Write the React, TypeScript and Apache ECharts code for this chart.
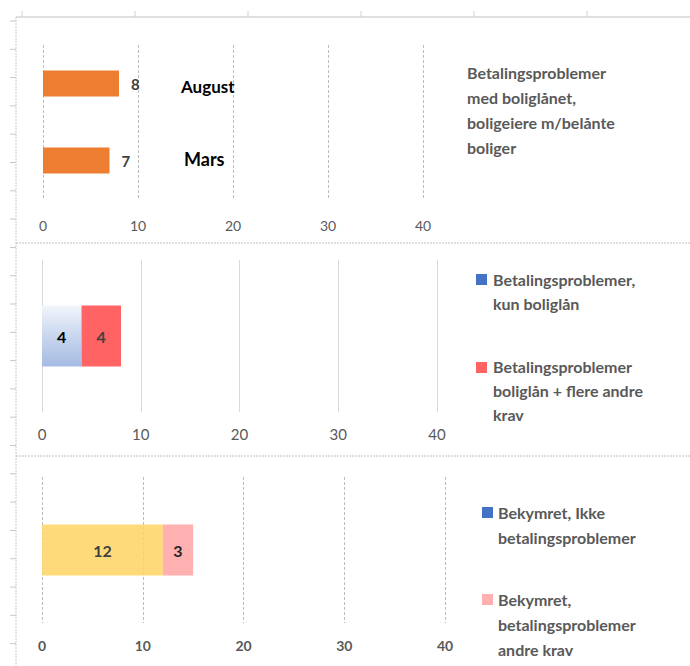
import React, { useEffect, useRef } from 'react';
import * as echarts from 'echarts';

const FONT = 'Lato, "Noto Sans", sans-serif';

// Panel 1
const monthCategories = ['Mars', 'August'];
const monthValues = [7, 8];
const panel1Title = 'Betalingsproblemer\nmed boliglånet,\nboligeiere m/belånte\nboliger';

// Panel 2
const panel2Categories = [''];
const onlyMortgageValues = [4];
const mortgagePlusValues = [4];
const panel2Names = ['Betalingsproblemer,\nkun boliglån', 'Betalingsproblemer\nboliglån + flere andre\nkrav'];

// Panel 3
const panel3Categories = [''];
const worriedNoProblemValues = [12];
const worriedOtherValues = [3];
const panel3Names = ['Bekymret, Ikke\nbetalingsproblemer', 'Bekymret,\nbetalingsproblemer\nandre krav'];

// Axis
const axisMin = 0;
const axisMax = 40;
const axisInterval = 10;

export default function App() {
  const ref = useRef<HTMLDivElement>(null);
  useEffect(() => {
    if (!ref.current) return;
    const chart = echarts.init(ref.current, undefined, { renderer: 'svg' });

    const graphics: any[] = [];
    // frame lines
    graphics.push({ type: 'line', shape: { x1: 16, y1: 17, x2: 690, y2: 17 }, style: { stroke: '#d6d6d6', lineWidth: 1.5 } });
    graphics.push({ type: 'line', shape: { x1: 16, y1: 17, x2: 16, y2: 666 }, style: { stroke: '#c8c8c8', lineWidth: 1, lineDash: [2, 1] } });
    graphics.push({ type: 'line', shape: { x1: 16, y1: 243, x2: 690, y2: 243 }, style: { stroke: '#c0c0c0', lineWidth: 1, lineDash: [2, 1] } });
    graphics.push({ type: 'line', shape: { x1: 16, y1: 456, x2: 690, y2: 456 }, style: { stroke: '#c0c0c0', lineWidth: 1, lineDash: [2, 1] } });
    for (let k = 0; k < 24; k++) {
      const y = 21 + 28.3 * k;
      if (y > 666) break;
      graphics.push({ type: 'line', shape: { x1: 10, y1: y, x2: 16, y2: y }, style: { stroke: '#c8c8c8', lineWidth: 1 } });
    }
    for (let k = 0; k < 7; k++) {
      const x = 22 + 113 * k;
      if (x > 690) break;
      graphics.push({ type: 'line', shape: { x1: x, y1: 11, x2: x, y2: 17 }, style: { stroke: '#d0d0d0', lineWidth: 1 } });
    }
    // Panel 1 title
    graphics.push({
      type: 'text', x: 467, y: 60,
      style: { text: panel1Title, font: `bold 16px ${FONT}`, fill: '#595959', lineHeight: 25, textVerticalAlign: 'top' },
    });
    // Panel 2 legend
    graphics.push({ type: 'rect', shape: { x: 476, y: 274, width: 11, height: 11 }, style: { fill: '#4472C4' } });
    graphics.push({ type: 'text', x: 493, y: 267, style: { text: panel2Names[0], font: `bold 16px ${FONT}`, fill: '#595959', lineHeight: 24 } });
    graphics.push({ type: 'rect', shape: { x: 476, y: 362, width: 11, height: 11 }, style: { fill: '#FF6363' } });
    graphics.push({ type: 'text', x: 493, y: 354, style: { text: panel2Names[1], font: `bold 16px ${FONT}`, fill: '#595959', lineHeight: 24 } });
    // Panel 3 legend
    graphics.push({ type: 'rect', shape: { x: 482, y: 507, width: 11, height: 11 }, style: { fill: '#4472C4' } });
    graphics.push({ type: 'text', x: 498, y: 500, style: { text: panel3Names[0], font: `bold 16px ${FONT}`, fill: '#595959', lineHeight: 25 } });
    graphics.push({ type: 'rect', shape: { x: 482, y: 594, width: 11, height: 11 }, style: { fill: '#FFB0B0' } });
    graphics.push({ type: 'text', x: 498, y: 587, style: { text: panel3Names[1], font: `bold 16px ${FONT}`, fill: '#595959', lineHeight: 25 } });

    const xAxisBase = (gridIndex: number, dashed: boolean, bold: boolean, margin: number, fontSize: number) => ({
      type: 'value', gridIndex, min: axisMin, max: axisMax, interval: axisInterval,
      axisLine: { show: false }, axisTick: { show: false },
      axisLabel: { color: '#595959', fontFamily: FONT, fontSize, fontWeight: bold ? 'bold' : 'normal', margin },
      splitLine: { show: true, lineStyle: { color: dashed ? '#bdbdbd' : '#d9d9d9', type: dashed ? [3, 2] : 'solid', width: 1 } },
    });

    chart.setOption({
      animation: false,
      textStyle: { fontFamily: FONT },
      grid: [
        { left: 43, right: 267, top: 45, bottom: 467 },
        { left: 42, right: 253, top: 260, bottom: 254 },
        { left: 42, right: 245, top: 477, bottom: 43 },
      ],
      xAxis: [
        xAxisBase(0, true, false, 19, 14),
        xAxisBase(1, false, false, 14, 15),
        xAxisBase(2, true, true, 15, 14),
      ],
      yAxis: [
        {
          type: 'category', gridIndex: 0, data: monthCategories,
          axisLine: { show: false }, axisTick: { show: false },
          axisLabel: {
            inside: true, margin: 138, color: '#000', fontWeight: 'bold', fontSize: 17, fontFamily: FONT,
            formatter: (v: string) => (v === 'Mars' ? `{m|${v}}` : `{a|${v}}`),
            rich: {
              m: { color: '#000', fontWeight: 'bold', fontSize: 18, fontFamily: FONT, padding: [0, 0, 4, 3] },
              a: { color: '#000', fontWeight: 'bold', fontSize: 17, fontFamily: FONT, padding: [6, 0, 0, 0] },
            },
          },
        },
        { type: 'category', gridIndex: 1, data: panel2Categories, axisLine: { show: false }, axisTick: { show: false }, axisLabel: { show: false } },
        { type: 'category', gridIndex: 2, data: panel3Categories, axisLine: { show: false }, axisTick: { show: false }, axisLabel: { show: false } },
      ],
      series: [
        {
          type: 'bar', name: 'Betalingsproblemer med boliglånet', xAxisIndex: 0, yAxisIndex: 0, data: monthValues,
          barWidth: 26, itemStyle: { color: '#ED7D31' },
          label: { show: true, position: 'right', distance: 12, color: '#404040', fontWeight: 'bold', fontSize: 15, fontFamily: FONT },
        },
        {
          type: 'bar', name: panel2Names[0], xAxisIndex: 1, yAxisIndex: 1, stack: 'p2', data: onlyMortgageValues,
          barWidth: 61,
          itemStyle: {
            color: new echarts.graphic.LinearGradient(0, 0, 0, 1, [
              { offset: 0, color: '#F2F5FB' },
              { offset: 0.5, color: '#C9D6EE' },
              { offset: 1, color: '#A5BBE3' },
            ]),
          },
          label: { show: true, position: 'inside', color: '#000', fontWeight: 'bold', fontSize: 16, fontFamily: FONT },
        },
        {
          type: 'bar', name: panel2Names[1], xAxisIndex: 1, yAxisIndex: 1, stack: 'p2', data: mortgagePlusValues,
          barWidth: 61, itemStyle: { color: '#FF6363' },
          label: { show: true, position: 'inside', color: '#404040', fontWeight: 'bold', fontSize: 16, fontFamily: FONT },
        },
        {
          type: 'bar', name: panel3Names[0], xAxisIndex: 2, yAxisIndex: 2, stack: 'p3', data: worriedNoProblemValues,
          barWidth: 51, itemStyle: { color: 'rgba(255, 212, 100, 0.85)' }, z: 1,
          label: { show: true, position: 'inside', color: '#404040', fontWeight: 'bold', fontSize: 16, fontFamily: FONT },
        },
        {
          type: 'bar', name: panel3Names[1], xAxisIndex: 2, yAxisIndex: 2, stack: 'p3', data: worriedOtherValues,
          barWidth: 51, itemStyle: { color: '#FFB0B0' },
          label: { show: true, position: 'inside', color: '#262626', fontWeight: 'bold', fontSize: 16, fontFamily: FONT },
        },
      ],
      graphic: graphics,
    });
    return () => chart.dispose();
  }, []);
  return <div ref={ref} style={{ position: 'absolute', left: 0, top: 0, width: 690, height: 666, background: '#fff' }} />;
}
